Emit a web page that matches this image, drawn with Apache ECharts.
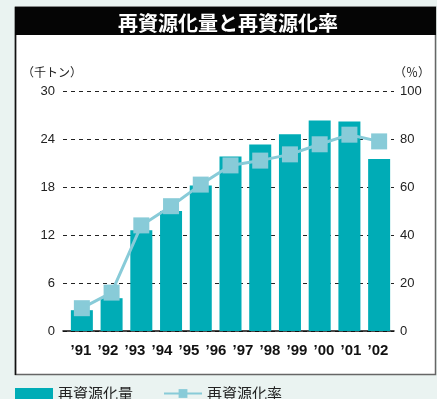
<!DOCTYPE html>
<html>
<head>
<meta charset="utf-8">
<script src="https://cdn.jsdelivr.net/npm/echarts@6/dist/echarts.min.js"></script>
<style>
  html, body { margin: 0; padding: 0; background: #eaf3f1; }
  #chart { width: 437px; height: 399px; }
</style>
</head>
<body>
<div id="chart"></div>
<script>
// Year labels printed along the bottom axis
const yearLabels = ['’91', '’92', '’93', '’94', '’95', '’96', '’97', '’98', '’99', '’00', '’01', '’02'];
// Recycled amount (thousand tonnes), one bar per reported year
const recycledAmount = [2.6, 4.1, 12.6, 15.0, 18.2, 21.8, 23.3, 24.6, 26.3, 26.2, 21.5];
// Recycling rate (%)
const recyclingRate = [9.5, 16, 44, 52, 61, 69, 71, 73.6, 77.8, 81.8, 79];
// Left and right axis ranges
const amountTicks = { min: 0, max: 30, interval: 6 };
const rateTicks = { min: 0, max: 100, interval: 20 };

const seriesNames = ['再資源化量', '再資源化率'];
const titleText = '再資源化量と再資源化率';
const amountUnit = '（千トン）';
const rateUnit = '（％）';

const BAR_COLOR = '#00acb6';
const LINE_COLOR = '#88cbd8';
const TEXT_COLOR = '#222';
const numFont = '"Liberation Sans", Arial, sans-serif';
const cjkFont = '"Noto Sans CJK JP", "Noto Sans", sans-serif';

const plotTop = 91, plotBottom = 68;
const dataIndex = recycledAmount.map((_, i) => String(i));

const chart = echarts.init(document.getElementById('chart'), null, { renderer: 'canvas' });

chart.setOption({
  animation: false,
  backgroundColor: 'transparent',
  title: {
    text: titleText,
    left: 223,
    top: 8,
    textAlign: 'center',
    textStyle: { color: '#fff', fontSize: 20, fontWeight: 'bold', fontFamily: cjkFont }
  },
  graphic: [
    // white panel with frame
    { type: 'rect', z: -10, shape: { x: 15.5, y: 7, width: 420, height: 367.5 },
      style: { fill: '#fff', stroke: '#666', lineWidth: 1.5 } },
    { type: 'line', z: -9, shape: { x1: 15.5, y1: 7, x2: 15.5, y2: 375 },
      style: { stroke: '#111', lineWidth: 1.5 } },
    // black title band
    { type: 'rect', z: -8, shape: { x: 15, y: 7, width: 421, height: 28 },
      style: { fill: '#050505' } },
    // unit captions
    { type: 'text', z: 5, x: 52, y: 72,
      style: { text: amountUnit, fill: TEXT_COLOR, font: '12px ' + cjkFont, align: 'center', verticalAlign: 'middle' } },
    { type: 'text', z: 5, x: 412, y: 72,
      style: { text: rateUnit, fill: TEXT_COLOR, font: '12px ' + cjkFont, align: 'center', verticalAlign: 'middle' } }
  ],
  legend: {
    left: 15,
    top: 386,
    padding: 0,
    itemWidth: 38,
    itemHeight: 11,
    itemGap: 30,
    textStyle: { color: TEXT_COLOR, fontSize: 15, fontFamily: cjkFont },
    data: [
      { name: seriesNames[0], icon: 'rect' },
      { name: seriesNames[1] }
    ]
  },
  grid: [
    { left: 63, right: 43, top: plotTop, bottom: plotBottom },
    { left: 67, right: 43, top: plotTop, bottom: plotBottom },
    { left: 67.5, right: 45.5, top: plotTop, bottom: plotBottom }
  ],
  xAxis: [
    // frame axis: baseline only
    { type: 'category', gridIndex: 0, data: [''],
      axisLine: { show: true, lineStyle: { color: '#111', width: 1.5 } },
      axisTick: { show: false }, axisLabel: { show: false }, splitLine: { show: false } },
    // data axis
    { type: 'category', gridIndex: 1, data: dataIndex,
      axisLine: { show: false }, axisTick: { show: false }, axisLabel: { show: false } },
    // printed year labels
    { type: 'category', gridIndex: 2, data: yearLabels,
      axisLine: { show: false }, axisTick: { show: false },
      axisLabel: { show: true, interval: 0, color: '#111', fontSize: 15, fontWeight: 'bold', margin: 12,
        fontFamily: numFont } }
  ],
  yAxis: [
    { type: 'value', gridIndex: 0, position: 'left', ...amountTicks,
      axisLine: { show: false }, axisTick: { show: false },
      axisLabel: { color: TEXT_COLOR, fontSize: 13, margin: 8, fontFamily: numFont },
      splitLine: { show: true, lineStyle: { color: '#222', width: 1, type: [4, 4] } } },
    { type: 'value', gridIndex: 0, position: 'right', ...rateTicks,
      axisLine: { show: false }, axisTick: { show: false },
      axisLabel: { color: TEXT_COLOR, fontSize: 13, margin: 6, fontFamily: numFont },
      splitLine: { show: false } },
    { type: 'value', gridIndex: 1, ...amountTicks, show: false },
    { type: 'value', gridIndex: 1, ...rateTicks, show: false },
    { type: 'value', gridIndex: 2, ...amountTicks, show: false }
  ],
  series: [
    {
      name: seriesNames[0],
      type: 'bar',
      xAxisIndex: 1,
      yAxisIndex: 2,
      data: recycledAmount,
      barWidth: 22,
      itemStyle: { color: BAR_COLOR },
      z: 2
    },
    {
      name: seriesNames[1],
      type: 'line',
      xAxisIndex: 1,
      yAxisIndex: 3,
      data: recyclingRate,
      symbol: 'rect',
      symbolSize: 16,
      lineStyle: { color: LINE_COLOR, width: 3 },
      itemStyle: { color: LINE_COLOR },
      z: 3
    }
  ]
});
</script>
</body>
</html>
